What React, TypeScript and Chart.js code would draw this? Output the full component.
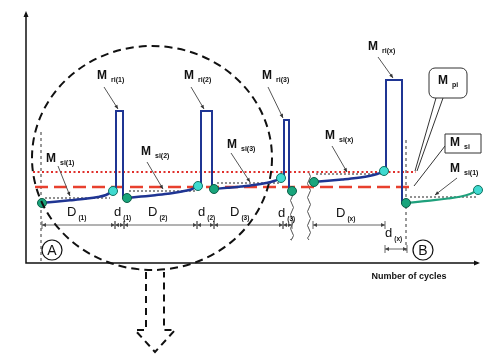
import { useEffect, useRef } from 'react';
import { Chart, registerables } from 'chart.js';
Chart.register(...registerables);

// ---------- DATA (x = number of cycles, y = moment, arbitrary units) ----------
const cycleNames = ['(1)', '(2)', '(3)', '(x)'];
const curveX = [
  [16, 29, 44, 59, 72, 80, 87],
  [101, 115, 129, 144, 156, 165, 172],
  [188, 201, 215, 228, 240, 248, 255],
  [288, 302, 316, 330, 343, 351, 358],
];
const curveY = [
  [60, 61.3, 62.7, 64.2, 66, 68, 72],
  [65, 66.4, 67.8, 69.5, 71.5, 73.5, 77],
  [74, 75.2, 76.5, 78, 80, 82, 85],
  [81, 82.2, 83.5, 85, 87, 89, 92],
];
const nextSpecimenX = [380, 394, 408, 422, 435, 444, 452];
const nextSpecimenY = [60, 61.4, 62.8, 64.5, 66.5, 69, 73];
const barLeftX = [90, 175, 258, 360];
const barRightX = [97, 186, 263, 376];
const barTopY = [152, 152, 143, 183];
const breakPointX = 266;
const breakPointY = 72;
const mPiLevel = 91;
const mSiLevel = 76;
const levelFromX = 7;
const levelToX = 390;
const siLevelY = [65, 72, 80, 89, 66];
const siLevelFromX = [19, 103, 191, 290, 384];
const siLevelToX = [84, 169, 253, 356, 451];

// ---------- ANNOTATIONS (positions in data units) ----------
const dimFrom = [16, 89, 98, 171, 188, 257, 287, 359];
const dimTo = [89, 98, 171, 188, 257, 266, 359, 381];
const dimLineY = [38, 38, 38, 38, 38, 38, 38, 14];
const dimText = ['D', 'd', 'D', 'd', 'D', 'd', 'D', 'd'];
const dimSub = ['(1)', '(1)', '(2)', '(2)', '(3)', '(3)', '(x)', '(x)'];
const dimLabelX = [41, 88, 122, 172, 204, 252, 310, 359];
const dimLabelY = [51, 51, 51, 51, 51, 50, 50, 30];

const mSub = ['ri(1)', 'ri(2)', 'ri(3)', 'ri(x)', 'si(1)', 'si(2)', 'si(3)', 'si(x)', 'si(1)', 'pi', 'si'];
const mX = [71, 158, 236, 342, 20, 115, 201, 299, 424, 412, 424];
const mY = [187, 187, 187, 216, 104, 111, 118, 127, 94, 182, 120];

const ptrFromX = [78, 165, 242, 352, 32, 121, 205, 306, 431];
const ptrFromY = [176, 176, 176, 206, 97, 101, 110, 117, 85];
const ptrToX = [92, 178, 257, 367, 44, 137, 224, 321, 409];
const ptrToY = [154, 154, 145, 185, 67, 74, 81, 91, 68];

const FONT = '"Liberation Sans", Arial, sans-serif';

function arrowHead(ctx: CanvasRenderingContext2D, x0: number, y0: number, x1: number, y1: number, len: number, half: number) {
  const a = Math.atan2(y1 - y0, x1 - x0);
  const c = Math.cos(a), s = Math.sin(a);
  ctx.beginPath();
  ctx.moveTo(x1, y1);
  ctx.lineTo(x1 - len * c + half * s, y1 - len * s - half * c);
  ctx.lineTo(x1 - len * c - half * s, y1 - len * s + half * c);
  ctx.closePath();
  ctx.fill();
}

function label(ctx: CanvasRenderingContext2D, main: string, sub: string, x: number, y: number, mainFont: string, subFont: string, gap: number, dy: number) {
  ctx.textAlign = 'left';
  ctx.textBaseline = 'middle';
  ctx.font = mainFont;
  ctx.fillText(main, x, y);
  const w = ctx.measureText(main).width;
  ctx.font = subFont;
  ctx.fillText(sub, x + w + gap, y + dy);
}

function wavy(ctx: CanvasRenderingContext2D, x: number, yTop: number, yBot: number) {
  ctx.beginPath();
  ctx.moveTo(x, yTop);
  let y = yTop;
  let dir = 1;
  while (y < yBot) {
    const ny = Math.min(y + 7, yBot);
    ctx.quadraticCurveTo(x + dir * 3, (y + ny) / 2, x, ny);
    y = ny;
    dir = -dir;
  }
  ctx.stroke();
}

const schematic = {
  id: 'schematic',
  beforeDatasetsDraw(chart: any) {
    const ctx: CanvasRenderingContext2D = chart.ctx;
    const px = (v: number) => chart.scales.x.getPixelForValue(v);
    const py = (v: number) => chart.scales.y.getPixelForValue(v);
    ctx.save();
    // axes
    ctx.strokeStyle = '#111';
    ctx.fillStyle = '#111';
    ctx.lineWidth = 1.5;
    ctx.beginPath();
    ctx.moveTo(px(0), py(250));
    ctx.lineTo(px(0), py(0));
    ctx.lineTo(px(452), py(0));
    ctx.stroke();
    arrowHead(ctx, px(0), py(200), px(0), py(252), 6, 2.5);
    arrowHead(ctx, px(400), py(0), px(454), py(0), 6, 2.5);

    // vertical dashed guides
    ctx.lineWidth = 1;
    ctx.strokeStyle = '#333';
    ctx.setLineDash([3, 3]);
    ctx.beginPath();
    ctx.moveTo(px(15), py(131));
    ctx.lineTo(px(15), py(0));
    ctx.moveTo(px(380), py(123));
    ctx.lineTo(px(380), py(11));
    ctx.stroke();
    ctx.setLineDash([]);

    // dimension lines
    ctx.strokeStyle = '#666';
    ctx.fillStyle = '#444';
    ctx.lineWidth = 1;
    for (let i = 0; i < dimFrom.length; i++) {
      const x0 = px(dimFrom[i]), x1 = px(dimTo[i]), y = py(dimLineY[i]);
      ctx.beginPath();
      ctx.moveTo(x0, y);
      ctx.lineTo(x1, y);
      ctx.moveTo(x0, y - 4);
      ctx.lineTo(x0, y + 4);
      ctx.moveTo(x1, y - 4);
      ctx.lineTo(x1, y + 4);
      ctx.stroke();
      arrowHead(ctx, (x0 + x1) / 2, y, x0, y, 4, 2);
      arrowHead(ctx, (x0 + x1) / 2, y, x1, y, 4, 2);
    }
    // break (wavy) lines
    ctx.strokeStyle = '#555';
    ctx.lineWidth = 1;
    wavy(ctx, px(breakPointX), py(73), py(23));
    wavy(ctx, px(283), py(90), py(23));
    ctx.restore();
  },
  afterDatasetsDraw(chart: any) {
    const ctx: CanvasRenderingContext2D = chart.ctx;
    const px = (v: number) => chart.scales.x.getPixelForValue(v);
    const py = (v: number) => chart.scales.y.getPixelForValue(v);
    ctx.save();
    // dashed ellipse
    ctx.strokeStyle = '#111';
    ctx.lineWidth = 2;
    ctx.setLineDash([8, 5]);
    ctx.beginPath();
    ctx.ellipse(px(126), py(105), px(246) - px(126), py(-7) - py(105), 0, 0, Math.PI * 2);
    ctx.stroke();
    // dashed down arrow
    ctx.setLineDash([7, 5]);
    ctx.beginPath();
    ctx.moveTo(px(120), py(-9));
    ctx.lineTo(px(120), py(-67));
    ctx.lineTo(px(109), py(-67));
    ctx.lineTo(px(129), py(-89));
    ctx.lineTo(px(149), py(-67));
    ctx.lineTo(px(138), py(-67));
    ctx.lineTo(px(138), py(-9));
    ctx.stroke();
    ctx.setLineDash([]);

    // pointer arrows
    ctx.strokeStyle = '#555';
    ctx.fillStyle = '#333';
    ctx.lineWidth = 1;
    for (let i = 0; i < ptrFromX.length; i++) {
      const x0 = px(ptrFromX[i]), y0 = py(ptrFromY[i]), x1 = px(ptrToX[i]), y1 = py(ptrToY[i]);
      ctx.beginPath();
      ctx.moveTo(x0, y0);
      ctx.lineTo(x1, y1);
      ctx.stroke();
      arrowHead(ctx, x0, y0, x1, y1, 4, 1.8);
    }
    // callouts
    ctx.strokeStyle = '#333';
    ctx.lineWidth = 1;
    ctx.beginPath();
    ctx.moveTo(px(410), py(165));
    ctx.lineTo(px(389), py(92));
    ctx.moveTo(px(417), py(165));
    ctx.lineTo(px(391), py(92));
    ctx.moveTo(px(419), py(117));
    ctx.lineTo(px(388), py(77));
    ctx.stroke();
    ctx.fillStyle = '#fff';
    ctx.beginPath();
    ctx.roundRect(px(403), py(195), px(441) - px(403), py(165) - py(195), 6);
    ctx.fill();
    ctx.stroke();
    ctx.beginPath();
    ctx.rect(px(419), py(129), px(455) - px(419), py(110) - py(129));
    ctx.fill();
    ctx.stroke();

    // M labels
    ctx.fillStyle = '#111';
    for (let i = 0; i < mSub.length; i++) {
      label(ctx, 'M', mSub[i], px(mX[i]), py(mY[i]), 'bold 12px ' + FONT, 'bold 7px ' + FONT, 4, 4);
    }
    // dimension labels
    for (let i = 0; i < dimText.length; i++) {
      label(ctx, dimText[i], dimSub[i], px(dimLabelX[i]), py(dimLabelY[i]), '13px ' + FONT, 'bold 6.5px ' + FONT, 2, 6);
    }
    // circled A / B
    ctx.strokeStyle = '#111';
    ctx.lineWidth = 1.2;
    const circ = [[26, 13, 'A'], [397, 13, 'B']] as const;
    for (const [cx, cy, t] of circ) {
      ctx.beginPath();
      ctx.arc(px(cx), py(cy), 10, 0, Math.PI * 2);
      ctx.stroke();
      ctx.font = '14px ' + FONT;
      ctx.textAlign = 'center';
      ctx.textBaseline = 'middle';
      ctx.fillText(t, px(cx), py(cy) + 1);
    }
    // axis title
    ctx.font = 'bold 9px ' + FONT;
    ctx.textAlign = 'center';
    ctx.textBaseline = 'middle';
    ctx.fillText('Number of cycles', px(383), py(-14));
    ctx.restore();
  },
};

const pts = (xs: number[], ys: number[]) => xs.map((x, i) => ({ x, y: ys[i] }));

export default function App() {
  const ref = useRef<HTMLCanvasElement>(null);
  useEffect(() => {
    if (!ref.current) return;
    const last = (a: number[]) => a[a.length - 1];
    const dropX = [curveX[1][0], curveX[2][0], breakPointX, nextSpecimenX[0]];
    const dropY = [curveY[1][0], curveY[2][0], breakPointY, nextSpecimenY[0]];

    const peaks = [...curveX.map((c, i) => ({ x: last(c), y: last(curveY[i]) })), { x: last(nextSpecimenX), y: last(nextSpecimenY) }];
    const valleys = [
      ...curveX.slice(0, 3).map((c, i) => ({ x: c[0], y: curveY[i][0] })),
      { x: breakPointX, y: breakPointY },
      { x: curveX[3][0], y: curveY[3][0] },
      { x: nextSpecimenX[0], y: nextSpecimenY[0] },
    ];
    const blue = '#1f3593';
    const datasets: any[] = [
      { label: 'peak', data: peaks, showLine: false, pointRadius: 4.5, pointBackgroundColor: '#3fdad0', pointBorderColor: '#13705e', pointBorderWidth: 1, clip: false },
      { label: 'start', data: valleys, showLine: false, pointRadius: 4.5, pointBackgroundColor: '#19a57c', pointBorderColor: '#0d5e47', pointBorderWidth: 1, clip: false },
      ...curveX.map((c, i) => ({
        label: 'cycle ' + cycleNames[i], data: pts(c, curveY[i]), borderColor: blue, borderWidth: 2.5,
        pointRadius: 0, cubicInterpolationMode: 'monotone', fill: false, clip: false,
      })),
      { label: 'next specimen', data: pts(nextSpecimenX, nextSpecimenY), borderColor: '#1fa07c', borderWidth: 2.2, pointRadius: 0, cubicInterpolationMode: 'monotone', clip: false },
      ...barLeftX.map((bx, i) => ({
        label: 'M ri' + cycleNames[i],
        data: [
          { x: last(curveX[i]), y: last(curveY[i]) },
          { x: bx, y: last(curveY[i]) },
          { x: bx, y: barTopY[i] },
          { x: barRightX[i], y: barTopY[i] },
          { x: barRightX[i], y: dropY[i] },
          { x: dropX[i], y: dropY[i] },
        ],
        borderColor: blue, borderWidth: 2, pointRadius: 0, tension: 0, clip: false,
      })),
      ...siLevelY.map((y, i) => ({
        label: 'M si level ' + i, data: [{ x: siLevelFromX[i], y }, { x: siLevelToX[i], y }],
        borderColor: '#222', borderWidth: 1, borderDash: [2, 2], pointRadius: 0,
      })),
      { label: 'M pi', data: [{ x: levelFromX, y: mPiLevel }, { x: levelToX, y: mPiLevel }], borderColor: '#e0302c', borderWidth: 2, borderDash: [2, 2.5], pointRadius: 0 },
      { label: 'M si', data: [{ x: levelFromX + 2, y: mSiLevel }, { x: levelToX - 1, y: mSiLevel }], borderColor: '#e8402e', borderWidth: 2.5, borderDash: [13, 6], pointRadius: 0 },
    ];

    const chart = new Chart(ref.current, {
      type: 'line',
      data: { datasets },
      options: {
        animation: false,
        responsive: false,
        devicePixelRatio: 1,
        layout: { padding: { left: 26, right: 20, top: 12, bottom: 92 } },
        scales: {
          x: { type: 'linear', min: 0, max: 454, display: false },
          y: { type: 'linear', min: 0, max: 251, display: false },
        },
        plugins: { legend: { display: false }, tooltip: { enabled: false } },
      },
      plugins: [schematic],
    } as any);
    return () => chart.destroy();
  }, []);
  return (
    <div style={{ position: 'fixed', left: 0, top: 0, width: 500, height: 355, background: '#fff' }}>
      <canvas ref={ref} width={500} height={355} style={{ width: 500, height: 355, display: 'block' }} />
    </div>
  );
}
